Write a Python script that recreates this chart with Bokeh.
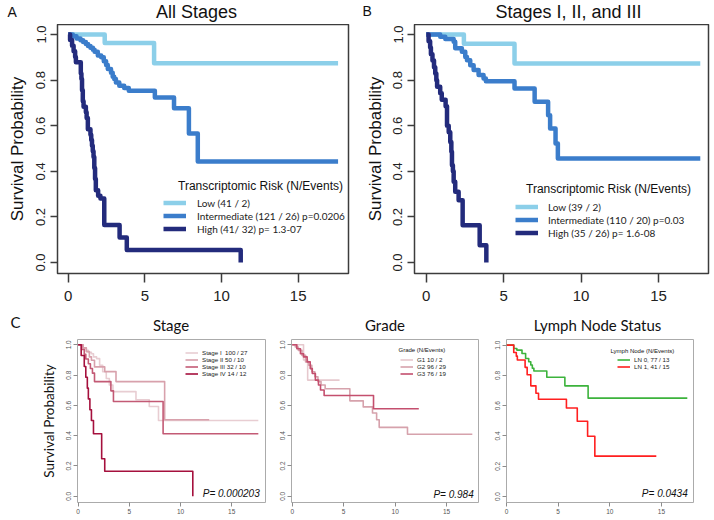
from bokeh.plotting import figure
from bokeh.models import Range1d, FixedTicker, Label, Legend, LegendItem
from bokeh.layouts import row, column
from bokeh.embed import file_html
from bokeh.resources import INLINE
from bokeh.core.properties import value

# ---------------- ticks ----------------
X_TICKS = [0, 5, 10, 15]
X_TICK_LABELS = ["0", "5", "10", "15"]
Y_TICKS = [0.0, 0.2, 0.4, 0.6, 0.8, 1.0]
Y_TICK_LABELS = ["0.0", "0.2", "0.4", "0.6", "0.8", "1.0"]

# ---------------- panel A: All Stages ----------------
A_TITLE = "All Stages"
A_LEGEND_TITLE = "Transcriptomic Risk (N/Events)"
A_LABELS = ["Low (41 / 2)", "Intermediate (121 / 26) p=0.0206", "High (41/ 32) p= 1.3-07"]
A_low_t = [0, 2.38, 5.6, 17.6]
A_low_s = [1.0, 0.963, 0.874, 0.874]
A_int_t = [0, 0.3, 0.54, 0.8, 0.97, 1.15, 1.29, 1.45, 1.61, 1.72, 1.93, 2.15, 2.32, 2.47, 2.58,
           2.79, 2.9, 3.0, 3.11, 3.33, 3.65, 3.95, 5.65, 6.9, 7.87, 8.45, 17.6]
A_int_s = [1.0, 0.992, 0.983, 0.975, 0.967, 0.958, 0.95, 0.942, 0.933, 0.925, 0.908, 0.9, 0.883,
           0.866, 0.849, 0.832, 0.815, 0.805, 0.79, 0.775, 0.765, 0.753, 0.724, 0.677, 0.566,
           0.443, 0.443]
A_high_t = [0, 0.12, 0.25, 0.35, 0.45, 0.5, 0.82, 0.86, 0.9, 0.95, 1.0, 1.15, 1.2, 1.28, 1.45,
            1.5, 1.55, 1.6, 1.65, 1.7, 1.75, 1.8, 1.95, 2.1, 2.35, 3.35, 3.82, 11.25]
A_high_s = [1.0, 0.976, 0.951, 0.927, 0.902, 0.878, 0.829, 0.805, 0.756, 0.707, 0.683, 0.659,
            0.634, 0.585, 0.561, 0.537, 0.512, 0.488, 0.463, 0.415, 0.366, 0.317, 0.293, 0.281,
            0.165, 0.11, 0.055, 0.0]

# ---------------- panel B: Stages I, II, and III ----------------
B_TITLE = "Stages I, II, and III"
B_LABELS = ["Low (39 / 2)", "Intermediate (110 / 20) p=0.03", "High (35 / 26) p= 1.6-08"]
B_low_t = [0, 2.43, 5.7, 17.7]
B_low_s = [1.0, 0.96, 0.873, 0.873]
B_int_t = [0, 0.9, 1.23, 1.77, 1.87, 2.3, 2.52, 2.63, 2.84, 3.06, 3.38, 3.7, 3.85, 5.7, 7.0,
           7.87, 8.0, 8.35, 8.5, 17.7]
B_int_s = [1.0, 0.99, 0.98, 0.968, 0.94, 0.924, 0.902, 0.887, 0.865, 0.844, 0.822, 0.807,
           0.795, 0.763, 0.705, 0.646, 0.588, 0.522, 0.456, 0.456]
B_high_t = [0, 0.15, 0.25, 0.3, 0.4, 0.5, 0.58, 0.65, 0.7, 0.9, 1.0, 1.25, 1.34, 1.45, 1.55,
            1.62, 1.66, 1.72, 1.77, 1.87, 2.09, 2.35, 3.45, 3.88]
B_high_s = [1.0, 0.971, 0.943, 0.914, 0.886, 0.857, 0.829, 0.8, 0.771, 0.743, 0.714, 0.686,
            0.6, 0.571, 0.529, 0.486, 0.427, 0.4, 0.354, 0.31, 0.273, 0.164, 0.076, 0.0]

# ---------------- panel C: Stage ----------------
C_TITLES = ["Stage", "Grade", "Lymph Node Status"]
S_LABELS = ["Stage I  100 / 27", "Stage II 50 / 10", "Stage III 32 / 10", "Stage IV 14 / 12"]
S1_t = [0, 0.5, 0.8, 1.0, 1.3, 1.5, 1.8, 2.1, 2.4, 2.75, 3.05, 3.4, 5.65, 6.95, 7.85, 17.6]
S1_s = [1.0, 0.98, 0.963, 0.95, 0.941, 0.92, 0.909, 0.865, 0.822, 0.778, 0.735, 0.691, 0.637,
        0.593, 0.5, 0.5]
S2_t = [0, 0.5, 0.8, 1.1, 1.3, 1.6, 2.6, 3.7, 8.45, 12.8]
S2_s = [1.0, 0.98, 0.955, 0.92, 0.898, 0.854, 0.823, 0.757, 0.505, 0.505]
S3_t = [0, 0.35, 0.6, 0.75, 1.0, 1.2, 1.4, 1.6, 3.2, 3.45, 8.3, 17.6]
S3_s = [1.0, 0.969, 0.938, 0.906, 0.875, 0.844, 0.813, 0.757, 0.696, 0.626, 0.413, 0.413]
S4_t = [0, 0.3, 0.6, 0.75, 0.9, 1.0, 1.15, 1.3, 1.5, 2.3, 2.6, 11.2]
S4_s = [1.0, 0.929, 0.857, 0.786, 0.714, 0.643, 0.571, 0.5, 0.413, 0.248, 0.165, 0.0]
S_P = "P=  0.000203"

# ---------------- panel C: Grade ----------------
G_LEGEND_TITLE = "Grade (N/Events)"
G_LABELS = ["G1 10 / 2", "G2 96 / 29", "G3 76 / 19"]
G1_t = [0, 1.1, 1.5, 4.6]
G1_s = [1.0, 0.9, 0.767, 0.767]
G2_t = [0, 0.3, 0.6, 0.95, 1.3, 1.6, 1.9, 2.2, 2.5, 2.8, 3.2, 5.6, 6.9, 7.8, 8.2, 8.45, 11.2, 17.5]
G2_s = [1.0, 0.985, 0.963, 0.93, 0.887, 0.865, 0.822, 0.789, 0.757, 0.735, 0.71, 0.63, 0.59,
        0.55, 0.505, 0.455, 0.41, 0.41]
G3_t = [0, 0.45, 0.8, 1.1, 1.45, 1.75, 1.95, 2.25, 2.55, 2.75, 3.1, 7.9, 12.3]
G3_s = [1.0, 0.974, 0.941, 0.92, 0.887, 0.843, 0.811, 0.767, 0.735, 0.702, 0.665, 0.578, 0.578]
G_P = "P=  0.984"

# ---------------- panel C: Lymph Node Status ----------------
L_LEGEND_TITLE = "Lymph Node (N/Events)"
L_LABELS = ["LN 0, 77 / 13", "LN 1, 41 / 15"]
L0_t = [0, 0.7, 1.0, 1.5, 1.85, 2.15, 2.35, 2.5, 2.65, 3.9, 5.65, 7.9, 17.5]
L0_s = [1.0, 0.978, 0.967, 0.945, 0.912, 0.89, 0.869, 0.847, 0.829, 0.788, 0.731, 0.65, 0.65]
L1_t = [0, 0.7, 0.95, 1.05, 1.8, 2.0, 2.35, 2.85, 3.1, 5.8, 6.85, 7.85, 8.55, 14.5]
L1_s = [1.0, 0.951, 0.927, 0.902, 0.853, 0.804, 0.731, 0.682, 0.643, 0.585, 0.497, 0.398,
        0.267, 0.267]
L_P = "P=  0.0434"

RISK_COLORS = ["#8ccfe9", "#3b7dcb", "#232b7c"]
STAGE_COLORS = ["#e8cdd2", "#d8a1ac", "#c35a75", "#a5103d"]
GRADE_COLORS = ["#e6c9ce", "#d6a2ac", "#c44f6e"]
LN_COLORS = ["#3cb33c", "#ff1f1f"]

SANS = "Liberation Sans"
HUMAN = "Lato"


def strip_fig(w, h):
    p = figure(width=w, height=h, x_range=Range1d(0, 1), y_range=Range1d(0, 1),
               output_backend="svg", toolbar_location=None,
               x_axis_type=None, y_axis_type=None,
               min_border_left=0, min_border_right=0, min_border_top=0, min_border_bottom=0)
    p.grid.visible = False
    p.outline_line_color = None
    p.background_fill_color = "white"
    p.border_fill_color = "white"
    return p


def make_fig(w, h, xr, yr, borders, top):
    bl, br, bt, bb = borders
    p = figure(width=w, height=h, x_range=Range1d(*xr), y_range=Range1d(*yr),
               output_backend="svg", toolbar_location=None,
               min_border_left=bl, min_border_right=br,
               min_border_top=bt, min_border_bottom=bb)
    p.grid.visible = False
    p.background_fill_color = "white"
    p.border_fill_color = "white"
    p.xaxis.ticker = FixedTicker(ticks=X_TICKS)
    p.yaxis.ticker = FixedTicker(ticks=Y_TICKS)
    p.xaxis.major_label_overrides = dict(zip(X_TICKS, X_TICK_LABELS))
    p.yaxis.major_label_overrides = dict(zip(Y_TICKS, Y_TICK_LABELS))
    p.axis.axis_line_color = None
    p.axis.minor_tick_line_color = None
    p.axis.major_tick_in = 0
    p.yaxis.major_label_orientation = "vertical"
    p.axis.major_label_text_font = SANS
    if top:
        p.outline_line_color = "#3c3c3c"
        p.outline_line_width = 1.5
        p.axis.major_tick_line_color = "#3c3c3c"
        p.axis.major_tick_line_width = 1.5
        p.xaxis.major_tick_out = 9
        p.yaxis.major_tick_out = 7
        p.xaxis.major_label_text_font_size = "15px"
        p.yaxis.major_label_text_font_size = "13px"
        p.xaxis.major_label_standoff = 8
        p.yaxis.major_label_standoff = 5
        p.axis.major_label_text_color = "#222222"
    else:
        p.outline_line_color = "#ababab"
        p.outline_line_width = 1
        p.axis.major_tick_line_color = "#8c8c8c"
        p.axis.major_tick_out = 4
        p.axis.major_label_text_font_size = "6.5px"
        p.axis.major_label_standoff = 2
        p.axis.major_label_text_color = "#555555"
    return p


def add_text(p, x, y, text, font, size, align="center", baseline="middle",
             style="normal", color="#111111"):
    p.add_layout(Label(x=x, y=y, x_units="screen", y_units="screen", text=text,
                       text_font=font, text_font_size=size, text_align=align,
                       text_baseline=baseline, text_font_style=style, text_color=color))


def add_legend(p, labels, renderers, loc, font, size, gw, gh, standoff):
    items = [LegendItem(label=value(l), renderers=[r]) for l, r in zip(labels, renderers)]
    leg = Legend(items=items, location=loc, border_line_color=None,
                 background_fill_alpha=0, padding=0, margin=0, spacing=0,
                 glyph_width=gw, glyph_height=gh, label_height=gh,
                 label_standoff=standoff, label_text_font=font,
                 label_text_font_size=size, label_text_color="#222222",
                 label_text_baseline="middle")
    p.add_layout(leg)


def steps(p, ts, ss, colors, width):
    return [p.step(t, s, mode="after", line_color=c, line_width=width, line_join="round")
            for t, s, c in zip(ts, ss, colors)]


def y_label(p, text, font, size, standoff):
    p.yaxis.axis_label = text
    p.yaxis.axis_label_text_font = font
    p.yaxis.axis_label_text_font_size = size
    p.yaxis.axis_label_text_font_style = "normal"
    p.yaxis.axis_label_standoff = standoff
    p.yaxis.axis_label_text_color = "#111111"


# ---------------- title strip (top) ----------------
tTop = strip_fig(714, 24)
add_text(tTop, 7, 20.5, "A", SANS, "14px", align="left", baseline="top")
add_text(tTop, 196, 22.5, A_TITLE, SANS, "18px", baseline="top")
add_text(tTop, 362, 21.5, "B", SANS, "14px", align="left", baseline="top")
add_text(tTop, 568, 22.5, B_TITLE, SANS, "18px", baseline="top")

# ---------------- top row ----------------
TOP_Y = (-0.048, 1.044)

pA = make_fig(355, 284, (-0.70, 18.28), TOP_Y, (57, 7, 0, 35), True)
rA = steps(pA, [A_low_t, A_int_t, A_high_t], [A_low_s, A_int_s, A_high_s], RISK_COLORS, 4.5)
y_label(pA, "Survival Probability", SANS, "17px", 7)
add_text(pA, 203, 88, A_LEGEND_TITLE, SANS, "12px")
add_legend(pA, A_LABELS, rA, (106, 38), HUMAN, "10px", 23, 13, 11)

pB = make_fig(359, 284, (-0.76, 18.23), TOP_Y, (59, 6, 0, 35), True)
rB = steps(pB, [B_low_t, B_int_t, B_high_t], [B_low_s, B_int_s, B_high_s], RISK_COLORS, 4.5)
y_label(pB, "Survival Probability", SANS, "17px", 6)
add_text(pB, 194, 85, A_LEGEND_TITLE, SANS, "12px")
add_legend(pB, B_LABELS, rB, (101, 34), HUMAN, "10px", 23, 13, 10)

# ---------------- title strip (panel C) ----------------
tC = strip_fig(714, 29)
add_text(tC, 10, 24.5, "C", HUMAN, "15px", align="left", baseline="top")
add_text(tC, 170.5, 22, C_TITLES[0], HUMAN, "15px", baseline="top")
add_text(tC, 384.5, 22, C_TITLES[1], HUMAN, "15px", baseline="top")
add_text(tC, 597, 21.5, C_TITLES[2], HUMAN, "15px", baseline="top")

# ---------------- bottom row ----------------
pS = make_fig(275, 183, (-0.06, 18.3), (-0.041, 1.035), (77, 10, 0, 18), False)
rS = steps(pS, [S1_t, S2_t, S3_t, S4_t], [S1_s, S2_s, S3_s, S4_s], STAGE_COLORS, 1.6)
y_label(pS, "Survival Probability", HUMAN, "13.5px", 7)
add_text(pS, 185, 9, S_P, SANS, "10px", align="right", style="italic")
add_legend(pS, S_LABELS, rS, (108, 125), SANS, "6.2px", 13, 7, 4)

pG = make_fig(217, 183, (-0.07, 18.1), (-0.041, 1.035), (16, 14, 0, 18), False)
rG = steps(pG, [G1_t, G2_t, G3_t], [G1_s, G2_s, G3_s], GRADE_COLORS, 1.6)
add_text(pG, 107, 153, G_LEGEND_TITLE, SANS, "6px", align="left")
add_text(pG, 185, 8, G_P, SANS, "10px", align="right", style="italic")
add_legend(pG, G_LABELS, rG, (109, 125), SANS, "6.2px", 13, 7, 4)

pL = make_fig(222, 183, (0.0, 18.1), (-0.039, 1.037), (14, 21, 2, 17), False)
rL = steps(pL, [L0_t, L1_t], [L0_s, L1_s], LN_COLORS, 1.6)
add_text(pL, 104, 152, L_LEGEND_TITLE, SANS, "6px", align="left")
add_text(pL, 184, 9, L_P, SANS, "10px", align="right", style="italic")
add_legend(pL, L_LABELS, rL, (111, 132), SANS, "6.2px", 13, 7, 4)

layout = column(tTop, row(pA, pB), tC, row(pS, pG, pL))
open("out.html", "w").write(file_html(layout, INLINE))
